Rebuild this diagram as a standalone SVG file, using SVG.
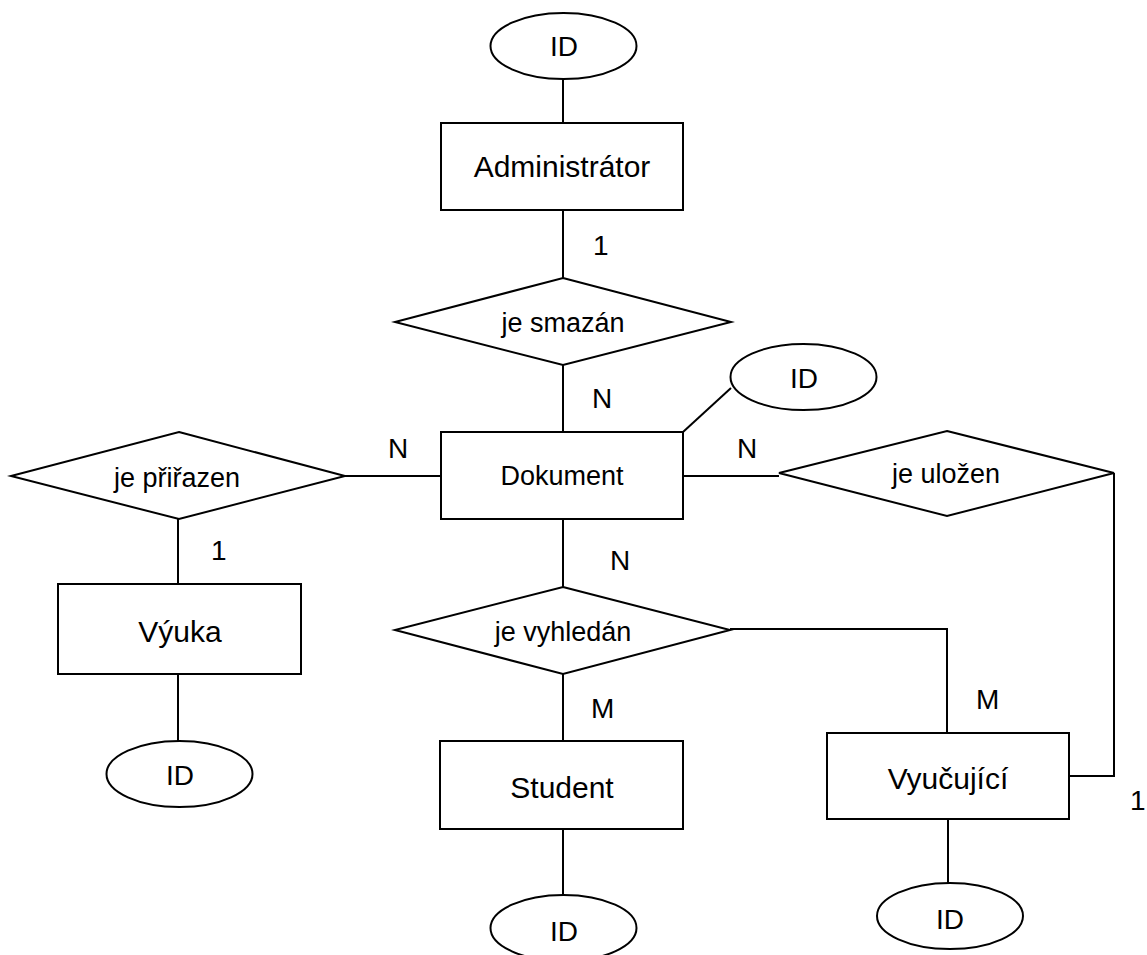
<svg xmlns="http://www.w3.org/2000/svg" width="1147" height="955" viewBox="0 0 1147 955">
<style>
.s{fill:#fff;stroke:#000;stroke-width:2}
.c{fill:none;stroke:#000;stroke-width:2}
text{font-family:"Liberation Sans",Arial,sans-serif;fill:#000;text-anchor:middle}
.e{font-size:30px}
.d{font-size:27px}
.r{font-size:27px}
.a{font-size:28px}
.l{font-size:28px;text-anchor:start}
</style>
<rect width="1147" height="955" fill="#fff"/>
<g id="connectors">
<line class="c" x1="563" y1="79" x2="563" y2="123"/>
<line class="c" x1="563" y1="210" x2="563" y2="278"/>
<line class="c" x1="563" y1="365" x2="563" y2="432"/>
<line class="c" x1="683" y1="432" x2="731" y2="388"/>
<line class="c" x1="345" y1="476" x2="441" y2="476"/>
<line class="c" x1="683" y1="476" x2="779" y2="476"/>
<line class="c" x1="563" y1="519" x2="563" y2="587"/>
<line class="c" x1="178" y1="519" x2="178" y2="584"/>
<line class="c" x1="178" y1="674" x2="178" y2="741"/>
<line class="c" x1="563" y1="674" x2="563" y2="741"/>
<line class="c" x1="563" y1="829" x2="563" y2="895"/>
<polyline class="c" points="730,629 947,629 947,733"/>
<polyline class="c" points="1114,473 1114,776 1069,776"/>
<line class="c" x1="948" y1="819" x2="948" y2="883"/>
<text class="l" x="593" y="255">1</text>
<text class="l" x="592" y="408">N</text>
<text class="l" x="388" y="458">N</text>
<text class="l" x="737" y="458">N</text>
<text class="l" x="610" y="570">N</text>
<text class="l" x="211" y="560">1</text>
<text class="l" x="591" y="718">M</text>
<text class="l" x="976" y="709">M</text>
<text class="l" x="1130" y="810">1</text>
</g>
<g id="admin-id"><ellipse class="s" cx="563.5" cy="46" rx="73" ry="33"/><text class="a" x="564" y="56">ID</text></g>
<g id="administrator"><rect class="s" x="441" y="123" width="242" height="87"/><text class="e" x="562" y="177">Administrátor</text></g>
<g id="je-smazan"><polygon class="s" points="563,278 731,322 563,365 395,322"/><text class="r" x="563" y="332">je smazán</text></g>
<g id="dokument-id"><ellipse class="s" cx="803.5" cy="377" rx="73" ry="33"/><text class="a" x="804" y="388">ID</text></g>
<g id="dokument"><rect class="s" x="441" y="432" width="242" height="87"/><text class="d" x="562" y="485">Dokument</text></g>
<g id="je-prirazen"><polygon class="s" points="179,432 345,476 179,519 11,476"/><text class="r" x="177" y="487">je přiřazen</text></g>
<g id="je-ulozen"><polygon class="s" points="947,431 1114,473 947,516 779,473"/><text class="r" x="946" y="483">je uložen</text></g>
<g id="vyuka"><rect class="s" x="58" y="584" width="243" height="90"/><text class="e" x="180" y="642">Výuka</text></g>
<g id="vyuka-id"><ellipse class="s" cx="179.5" cy="774" rx="73" ry="33"/><text class="a" x="180" y="785">ID</text></g>
<g id="je-vyhledan"><polygon class="s" points="563,587 730,630 563,674 395,630"/><text class="r" x="563" y="641">je vyhledán</text></g>
<g id="student"><rect class="s" x="440" y="741" width="243" height="88"/><text class="e" x="562" y="798">Student</text></g>
<g id="student-id"><ellipse class="s" cx="563.5" cy="928" rx="73" ry="33"/><text class="a" x="564" y="941">ID</text></g>
<g id="vyucujici"><rect class="s" x="827" y="733" width="242" height="86"/><text class="e" x="948" y="789">Vyučující</text></g>
<g id="vyucujici-id"><ellipse class="s" cx="950" cy="916" rx="73" ry="33"/><text class="a" x="950" y="929">ID</text></g>
</svg>
